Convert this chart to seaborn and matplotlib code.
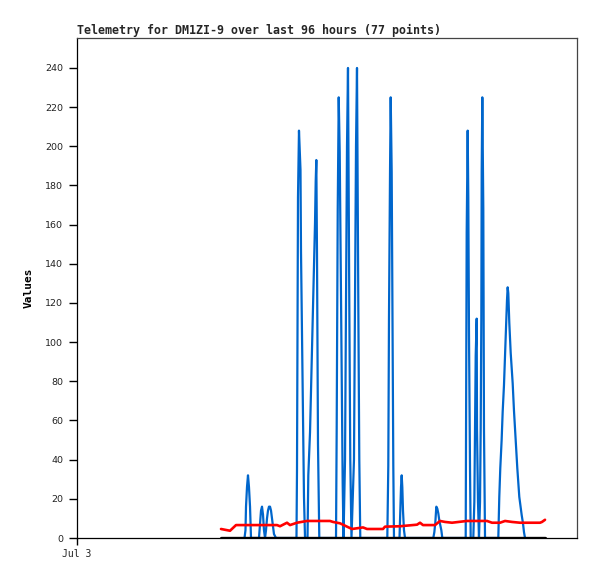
import numpy as np
import pandas as pd
import seaborn as sns
import matplotlib.pyplot as plt

# hours since Jul 3 00:00 and readings
blue_hours = [32.16, 32.35, 32.45, 32.64, 32.83, 33.02, 33.22, 33.41,
              34.94, 35.14, 35.33, 35.52, 35.71, 35.90, 36.10,
              36.29, 36.48, 36.67, 36.86, 37.06, 37.25, 37.44, 37.63, 37.82, 38.21,
              42.14, 42.24, 42.34, 42.43, 42.62, 42.91, 43.01, 43.20, 43.39, 43.58, 43.78,
              44.26, 44.41, 44.74, 44.93, 45.12, 45.31, 45.50, 45.70, 45.83, 45.95, 46.08, 46.27, 46.52,
              49.73, 49.86, 50.06, 50.25, 50.44, 50.63, 50.82, 51.01, 51.17,
              51.46, 51.65, 51.84, 52.03, 52.28, 52.47, 52.70,
              53.18, 53.38, 53.57, 53.76, 54.01, 54.20, 54.39,
              59.58, 59.77, 59.90, 60.10, 60.23, 60.42, 60.58, 60.73, 60.86,
              61.92, 62.07, 62.21, 62.34, 62.46, 62.59, 62.78, 62.98,
              68.41, 68.61, 68.80, 68.99, 69.18, 69.37, 69.56, 69.75, 69.95, 70.14,
              74.63, 74.69, 74.82, 75.01, 75.13, 75.26, 75.46, 75.59,
              76.09, 76.29, 76.42, 76.55, 76.74, 76.80, 76.99, 77.18,
              77.38, 77.51, 77.63, 77.70, 77.82, 78.01, 78.14, 78.34,
              80.89, 81.08, 81.27, 81.53, 81.73, 81.98, 82.18, 82.37, 82.56, 82.69,
              82.81, 83.00, 83.27, 83.65, 83.90, 84.23, 84.54, 84.92, 85.38, 85.63, 85.82, 86.02]
blue_values = [0, 4, 16, 26, 32, 26, 16, 0,
               0, 7, 14, 16, 12, 4, 0,
               4, 10, 14, 16, 16, 14, 10, 6, 2, 0,
               0, 35, 105, 174, 208, 188, 146, 104, 62, 21, 0,
               0, 32, 54, 75, 96, 117, 138, 161, 182, 193, 145, 48, 0,
               0, 56, 168, 225, 197, 140, 84, 28, 0,
               40, 120, 200, 240, 120, 40, 0,
               40, 120, 200, 240, 120, 40, 0,
               0, 37, 112, 187, 225, 187, 112, 37, 0,
               0, 14, 26, 32, 26, 14, 4, 0,
               0, 3, 8, 16, 15, 12.6, 9, 6.6, 4, 0,
               0, 52, 156, 208, 174, 105, 35, 0,
               0, 18.5, 56, 93, 112, 56, 18.5, 0,
               18.5, 56, 112, 187, 225, 168, 56, 0,
               0, 21, 35.6, 50, 64.5, 78, 92.6, 107, 121.5, 128,
               125, 110, 94.5, 79, 65, 50, 35.6, 21, 11.7, 7.5, 3, 0]

red_hours = [27.65, 29.38, 30.53, 38.40, 38.98, 40.32, 40.90, 42.24, 44.16, 48.58,
             49.15, 50.50, 51.84, 52.80, 54.91, 55.68, 58.75, 59.14, 62.02, 65.28,
             65.86, 66.43, 68.74, 69.70, 70.66, 72.00, 74.88, 78.72, 79.68, 81.22,
             82.18, 83.52, 85.06, 88.90, 89.28, 89.86]
red_values = [4.6, 3.7, 6.6, 6.6, 6.0, 7.8, 6.6, 7.8, 8.7, 8.7,
              8.2, 7.5, 5.8, 4.6, 5.4, 4.6, 4.6, 5.8, 6.0, 6.8,
              7.8, 6.6, 6.6, 8.7, 8.2, 7.8, 8.7, 8.7, 7.8, 7.8,
              8.7, 8.2, 7.8, 7.8, 8.2, 9.3]

black_hours = [27.65, 89.86]
black_values = [0, 0]

y_ticks = list(range(0, 241, 20))
x_tick_labels = ["Jul 3"]

sns.set_style("ticks")
plt.rcParams['font.family'] = ['DejaVu Sans']

fig = plt.figure(figsize=(5.97, 5.79), dpi=100)
ax = fig.add_axes([77 / 597, 41 / 579, 500 / 597, 500 / 579])

sns.lineplot(x=blue_hours, y=blue_values, sort=False, estimator=None,
             color="#0066CC", linewidth=1.6, ax=ax)
sns.lineplot(x=red_hours, y=red_values, sort=False, estimator=None,
             color="#FF0000", linewidth=1.9, ax=ax)
sns.lineplot(x=black_hours, y=black_values, sort=False, estimator=None,
             color="black", linewidth=2.4, ax=ax)

ax.set_xlim(0, 96)
ax.set_ylim(0, 255.3)
ax.set_yticks(y_ticks)
ax.set_yticklabels([str(v) for v in y_ticks], fontsize=6.8, color="#222222")
ax.set_xticks([0])
ax.set_xticklabels(x_tick_labels, family="DejaVu Sans Mono", fontsize=7, color="#222222")
ax.tick_params(axis="y", length=6, width=1, pad=4, colors="black", labelcolor="#222222")
ax.tick_params(axis="x", length=5, width=1, pad=3, colors="black", labelcolor="#222222")

for side in ["top", "right"]:
    ax.spines[side].set_visible(True)
    ax.spines[side].set_color("#444444")
    ax.spines[side].set_linewidth(0.9)
for side in ["left", "bottom"]:
    ax.spines[side].set_color("black")
    ax.spines[side].set_linewidth(0.9)

ax.set_ylabel("Values", family="DejaVu Sans Mono", fontweight="bold", fontsize=8,
              color="black", labelpad=8)
ax.set_xlabel("")
ax.set_title("Telemetry for DM1ZI-9 over last 96 hours (77 points)",
             loc="left", family="DejaVu Sans Mono", fontweight="bold", fontsize=8.4, pad=3)

fig.savefig("out.png", dpi=100)
